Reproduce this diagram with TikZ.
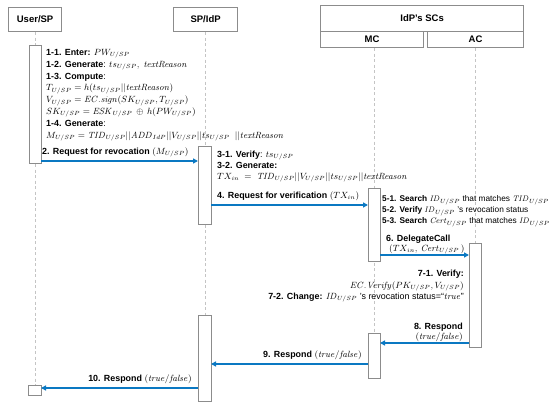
\documentclass[tikz,border=0pt]{standalone}
\usepackage[no-math]{fontspec}
\setmainfont{Liberation Sans}
\usetikzlibrary{arrows.meta}
\definecolor{arrowblue}{HTML}{0A78C2}
\definecolor{boxgray}{HTML}{8C8C8C}
\definecolor{lifegray}{HTML}{C4C4C4}
\tikzset{
  hdr/.style={draw=boxgray, line width=1.2pt, fill=white, font=\fontsize{9.5}{11}\selectfont\bfseries},
  act/.style={draw=boxgray, line width=1pt, fill=white},
  life/.style={draw=lifegray, line width=0.7pt, dash pattern=on 3pt off 2.5pt},
  msg/.style={draw=arrowblue, line width=1.7pt, -{Triangle[length=5pt,width=5pt]}},
  txt/.style={inner sep=0pt, font=\fontsize{8.9}{10}\selectfont},
  tw/.style={txt, anchor=base west},
  te/.style={txt, anchor=base east},
  tws/.style={tw, font=\fontsize{8.3}{10}\selectfont}
}
\newcommand{\US}{_{U/SP}}
\newcommand{\mi}[1]{\mathit{#1}}
\begin{document}
\begin{tikzpicture}[x=1pt,y=-1pt]
\useasboundingbox (0,0) rectangle (550,406);
% headers
\node[hdr, minimum width=53pt, minimum height=24pt, anchor=north west] (user) at (8,7) {User/SP};
\node[hdr, minimum width=64pt, minimum height=24pt, anchor=north west] (spidp) at (173,7) {SP/IdP};
\node[hdr, minimum width=203pt, minimum height=26pt, anchor=north west] (scs) at (320,5) {IdP's SCs};
\node[hdr, minimum width=103pt, minimum height=16pt, anchor=north west] (mc) at (320,31) {MC};
\node[hdr, minimum width=96pt, minimum height=16pt, anchor=north west] (ac) at (427,31) {AC};
% lifeline end coordinates
\coordinate (uend) at (35,385);
\coordinate (send) at (205,401);
\coordinate (mend) at (374,378);
\coordinate (aend) at (475,347);
\draw[life] (user.south -| uend) -- (uend);
\draw[life] (spidp.south -| send) -- (send);
\draw[life] (mc.south -| mend) -- (mend);
\draw[life] (ac.south -| aend) -- (aend);
% activation boxes
\node[act, minimum width=12pt, minimum height=118pt, anchor=north west, inner sep=0pt] (ua1) at (29,45) {};
\node[act, minimum width=13pt, minimum height=78pt, anchor=north west, inner sep=0pt] (sa1) at (198,146) {};
\node[act, minimum width=12pt, minimum height=73pt, anchor=north west, inner sep=0pt] (ma1) at (368,188) {};
\node[act, minimum width=12pt, minimum height=104pt, anchor=north west, inner sep=0pt] (aa1) at (469,243) {};
\node[act, minimum width=12pt, minimum height=45pt, anchor=north west, inner sep=0pt] (ma2) at (368,333) {};
\node[act, minimum width=13pt, minimum height=86pt, anchor=north west, inner sep=0pt] (sa2) at (198,315) {};
\node[act, minimum width=13pt, minimum height=10pt, anchor=north west, inner sep=0pt] (ua2) at (28,385) {};
% block 1
\node[tw] (b11) at (46,55.5) {\textbf{1-1. Enter:} $PW\US$};
\node[tw] (b12) at (46,67.3) {\textbf{1-2. Generate}: $ts\US,\ \mi{textReason}$};
\node[tw] (b13) at (46,79.1) {\textbf{1-3. Compute}:};
\node[tw] (b14) at (46,90.9) {$T\US = h(ts\US{||}\mi{textReason})$};
\node[tw] (b15) at (46,102.7) {$V\US = \mi{EC.sign}(SK\US, T\US)$};
\node[tw] (b16) at (46,114.5) {$SK\US = \mi{ESK}\US \,\oplus\, h(PW\US)$};
\node[tw] (b17) at (46,126.3) {\textbf{1-4. Generate}:};
\node[tw] (b18) at (46,138.1) {$M\US = \mi{TID}\US{||}\mi{ADD}_{IdP}{||}V\US{||}ts\US\ \ {||}\mi{textReason}$};
% message 2
\coordinate (m2s) at (41,161);
\coordinate (m2e) at (198,161);
\draw[msg] (m2s) -- (m2e);
\node[tw] (l2) at (42,154.5) {\textbf{2. Request for revocation} $(M\US)$};
% block 3
\node[tw] (b31) at (217,157.5) {\textbf{3-1. Verify}: $ts\US$};
\node[tw] (b32) at (217,168.5) {\textbf{3-2. Generate:}};
\node[tw] (b33) at (217,179.5) {$TX_{in}\ =\ \mi{TID}\US{||}V\US{||}ts\US{||}\mi{textReason}$};
% message 4
\coordinate (m4s) at (211,205);
\coordinate (m4e) at (368,205);
\draw[msg] (m4s) -- (m4e);
\node[tw] (l4) at (217,198.5) {\textbf{4. Request for verification} $(TX_{in})$};
% block 5
\node[tws] (b51) at (382,201.5) {\textbf{5-1. Search} $\mi{ID}\US$ that matches $\mi{TID}\US$};
\node[tws] (b52) at (382,212.5) {\textbf{5-2. Verify} $\mi{ID}\US$ 's revocation status};
\node[tws] (b53) at (382,223.5) {\textbf{5-3. Search} $\mi{Cert}\US$ that matches $\mi{ID}\US$};
% message 6
\coordinate (m6s) at (380,255);
\coordinate (m6e) at (469,255);
\draw[msg] (m6s) -- (m6e);
\node[tw] (l6a) at (386,241.5) {\textbf{6. DelegateCall}};
\node[tw] (l6b) at (389,251.5) {$(TX_{in},\, \mi{Cert}\US\,)$};
% block 7
\node[te] (b71) at (464,276.5) {\textbf{7-1. Verify:}};
\node[te] (b72) at (464,288.5) {$\mi{EC.Verify}(PK\US, V\US)$};
\node[te] (b73) at (464,299.5) {\textbf{7-2. Change:} $\mi{ID}\US$ 's revocation status=``$\mi{true}$''};
% message 8
\coordinate (m8s) at (469,343);
\coordinate (m8e) at (380,343);
\draw[msg] (m8s) -- (m8e);
\node[te] (l8a) at (463,329.5) {\textbf{8. Respond}};
\node[te] (l8b) at (463,340) {$(\mi{true}/\mi{false})$};
% message 9
\coordinate (m9s) at (368,364);
\coordinate (m9e) at (211,364);
\draw[msg] (m9s) -- (m9e);
\node[te] (l9) at (362,357.5) {\textbf{9. Respond} $(\mi{true}/\mi{false})$};
% message 10
\coordinate (m10s) at (198,388);
\coordinate (m10e) at (41,388);
\draw[msg] (m10s) -- (m10e);
\node[te] (l10) at (192,381.5) {\textbf{10. Respond} $(\mi{true}/\mi{false})$};
\end{tikzpicture}
\end{document}
